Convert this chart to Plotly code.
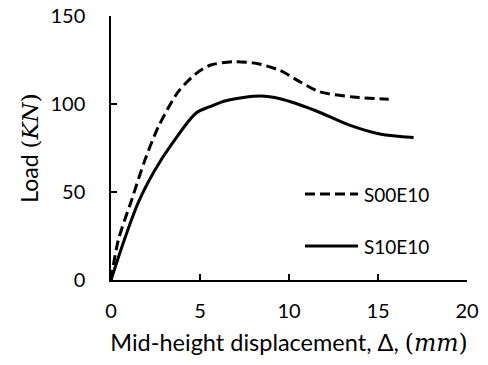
import plotly.graph_objects as go

# S00E10 (dashed)
s00_x = [0, 0.41, 1.16, 1.9, 2.66, 3.78, 4.8, 5.56, 6.9, 8.2, 9.5, 10.6, 11.7, 13.6, 15.6]
s00_y = [0, 22.7, 45.5, 68, 87, 107, 117.4, 122, 124, 123, 119, 112.7, 107, 104, 102.7]
# S10E10 (solid)
s10_x = [0, 0.79, 1.53, 2.47, 3.4, 4.8, 5.56, 6.5, 8.4, 9.5, 11.4, 13.4, 15.1, 17.0]
s10_y = [0, 24, 44, 62.5, 77, 95, 98.5, 102, 104.5, 103, 96.6, 88, 83, 81]

names = ["S00E10", "S10E10"]
x_ticks = [0, 5, 10, 15, 20]
y_ticks = [0, 50, 100, 150]

fig = go.Figure()
fig.add_trace(go.Scatter(x=s00_x, y=s00_y, mode="lines", name=names[0],
                         line=dict(color="black", width=3, dash="10px,5px", shape="spline", smoothing=0.8),
                         showlegend=False))
fig.add_trace(go.Scatter(x=s10_x, y=s10_y, mode="lines", name=names[1],
                         line=dict(color="black", width=3, shape="spline", smoothing=0.9),
                         showlegend=False))

# custom legend (paper coords)
W, H = 488, 365
L, R, T, B = 111, 21, 16, 85
pw, ph = W - L - R, H - T - B
def px(x): return (x - L) / pw
def py(y): return 1 - (y - T) / ph

for yy, dash, nm in [(194, "10px,5px", names[0]), (246, "solid", names[1])]:
    fig.add_shape(type="line", xref="paper", yref="paper", x0=px(305), x1=px(358), y0=py(yy), y1=py(yy),
                  line=dict(color="black", width=3, dash=dash))
    fig.add_annotation(xref="paper", yref="paper", x=px(362), y=py(yy), text=nm, showarrow=False,
                       xanchor="left", yanchor="middle", font=dict(size=19, color="black"))

serif = "font-family:'DejaVu Serif',serif"
axis_common = dict(showline=True, linecolor="black", linewidth=1.5, ticks="inside", ticklen=6,
                   tickcolor="black", tickwidth=1.5, showgrid=False, zeroline=False, automargin=False,
                   tickfont=dict(size=20, color="black"), mirror=False)
fig.update_xaxes(range=[0, 20], tickvals=x_ticks, ticklabelstandoff=12,
                 title=dict(text=f"Mid-height displacement, Δ, <span style=\"{serif}\">(<i>mm</i>)</span>",
                            font=dict(size=23.5, color="black"), standoff=14),
                 **axis_common)
fig.update_yaxes(range=[0, 150], tickvals=y_ticks, ticklabelstandoff=20,
                 title=dict(text=f"Load <span style=\"{serif}\">(<i>KN</i>)</span>",
                            font=dict(size=23, color="black"), standoff=5),
                 **axis_common)
fig.update_layout(width=W, height=H, margin=dict(l=L, r=R, t=T, b=B),
                  plot_bgcolor="white", paper_bgcolor="white",
                  font=dict(family="Lato, sans-serif", color="black"))
fig.write_html("out.html")
